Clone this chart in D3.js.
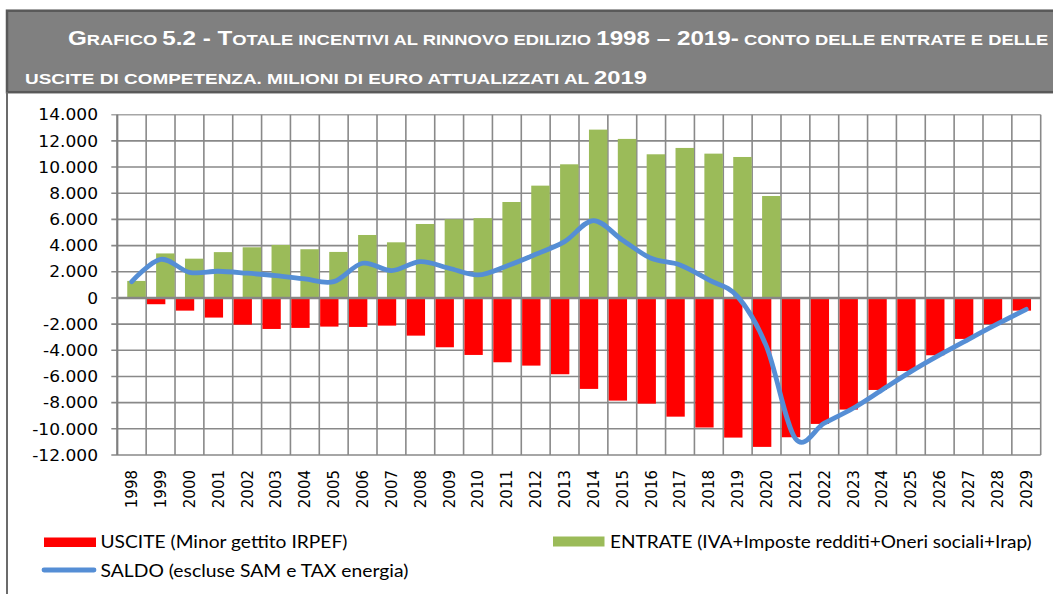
<!DOCTYPE html>
<html><head><meta charset="utf-8">
<script src="https://cdn.jsdelivr.net/npm/d3@7"></script>
<style>html,body{margin:0;padding:0;background:#fff;}svg{display:block;}</style>
</head><body>
<svg id="chart" width="1053" height="594"></svg>
<script>
const years = ["1998","1999","2000","2001","2002","2003","2004","2005","2006","2007","2008","2009","2010","2011","2012","2013","2014","2015","2016","2017","2018","2019","2020","2021","2022","2023","2024","2025","2026","2027","2028","2029"];
const uscite = [0,-480,-970,-1500,-2040,-2370,-2290,-2190,-2215,-2115,-2880,-3770,-4355,-4915,-5170,-5830,-6950,-7845,-8075,-9070,-9900,-10670,-11380,-10645,-9625,-8530,-7030,-5580,-4380,-3130,-2010,-970];
const entrate = [1300,3400,3000,3500,3870,4050,3720,3515,4810,4250,5650,6010,6090,7330,8580,10210,12860,12150,10975,11460,11025,10770,7790,null,null,null,null,null,null,null,null,null];
const saldo = [1245,2950,1960,2040,1890,1705,1450,1245,2650,2090,2775,2270,1757,2445,3335,4300,5910,4430,3030,2520,1375,100,-3720,-10750,-9570,-8430,-7030,-5630,-4355,-3160,-1990,-870];
const yTicks = [-12000,-10000,-8000,-6000,-4000,-2000,0,2000,4000,6000,8000,10000,12000,14000];
const legendLabels = ["USCITE (Minor gettito IRPEF)","ENTRATE (IVA+Imposte redditi+Oneri sociali+Irap)","SALDO (escluse SAM e TAX energia)"];

const svg = d3.select("#chart");
const L = 117.3, R = 1040.7, T = 114.7, B = 455;
const x = d3.scaleBand().domain(years).range([L, R]).padding(0);
const y = d3.scaleLinear().domain([-12000, 14000]).range([B, T]);
const loc = d3.formatLocale({decimal: ",", thousands: ".", grouping: [3], currency: ["", ""], minus: "-"});
const fmt = loc.format(",d");

// title band
svg.append("rect").attr("x", 7).attr("y", 10.7).attr("width", 1060).attr("height", 81.5)
  .attr("fill", "#808080").attr("stroke", "#595959").attr("stroke-width", 2.5);
svg.append("line").attr("x1", 7).attr("x2", 7).attr("y1", 92).attr("y2", 594)
  .attr("stroke", "#6b6b6b").attr("stroke-width", 2);

function fitText(parts, x0, yb, width) {
  const t = svg.append("text").attr("x", 0).attr("y", 0)
    .attr("font-family", "'Liberation Sans', Arial, sans-serif").attr("font-weight", "bold").attr("fill", "#ffffff");
  parts.forEach(p => t.append("tspan").attr("font-size", p[1]).text(p[0]));
  const w = t.node().getComputedTextLength();
  t.attr("transform", `translate(${x0},${yb}) scale(${width / w},1)`);
}
const BIG = 19.5, SM = 14.8;
fitText([["G", BIG], ["RAFICO ", SM], ["5.2 - ", BIG], ["T", BIG], ["OTALE INCENTIVI AL RINNOVO EDILIZIO ", SM], ["1998 – 2019-", BIG], [" CONTO DELLE ENTRATE E DELLE", SM]], 68, 45, 981);
fitText([["USCITE DI COMPETENZA. MILIONI DI EURO ATTUALIZZATI AL ", SM], ["2019", 18.6]], 25, 84, 622);

// grid
const g = svg.append("g");
g.selectAll(".hg").data(yTicks).join("line")
  .attr("x1", L - 6).attr("x2", R).attr("y1", d => y(d)).attr("y2", d => y(d))
  .attr("stroke", d => d === 14000 ? "#a6a6a6" : "#898989").attr("stroke-width", 1.6);
const bounds = years.map(d => x(d)).concat([R]);
g.selectAll(".vg").data(bounds).join("line")
  .attr("x1", d => d).attr("x2", d => d).attr("y1", T).attr("y2", B)
  .attr("stroke", "#898989").attr("stroke-width", 1.6);
g.append("line").attr("x1", L).attr("x2", L).attr("y1", T).attr("y2", B).attr("stroke", "#7f7f7f").attr("stroke-width", 2);

// y labels
svg.append("g").selectAll("text").data(yTicks).join("text")
  .attr("transform", d => `translate(98,${y(d) + 5.7}) scale(1.08,1)`)
  .attr("text-anchor", "end")
  .attr("font-family", "'DejaVu Sans', sans-serif").attr("font-size", 15.8).attr("fill", "#000")
  .text(d => fmt(d));

// bars
const bw = x.bandwidth();
svg.append("g").selectAll("rect").data(years.map((d, i) => ({yr: d, v: uscite[i]})).filter(d => d.v))
  .join("rect")
  .attr("x", d => x(d.yr) + bw * 0.03).attr("width", bw * 0.635)
  .attr("y", y(0)).attr("height", d => y(d.v) - y(0)).attr("fill", "#ff0000");
svg.append("g").selectAll("rect").data(years.map((d, i) => ({yr: d, v: entrate[i]})).filter(d => d.v != null))
  .join("rect")
  .attr("x", d => x(d.yr) + bw * 0.345).attr("width", bw * 0.64)
  .attr("y", d => y(d.v)).attr("height", d => y(0) - y(d.v)).attr("fill", "#9bbb59");

// zero axis
svg.append("line").attr("x1", L).attr("x2", R).attr("y1", y(0)).attr("y2", y(0))
  .attr("stroke", "#868686").attr("stroke-width", 2.6);

// line
const line = d3.line().x((d, i) => x(years[i]) + bw / 2).y(d => y(d)).curve(d3.curveCardinal.tension(0));
svg.append("path").datum(saldo).attr("d", line).attr("fill", "none")
  .attr("stroke", "#558ed5").attr("stroke-width", 4.8).attr("stroke-linecap", "round").attr("stroke-linejoin", "round");

// x labels
svg.append("g").selectAll("text").data(years).join("text")
  .attr("transform", d => `translate(${x(d) + bw / 2 + 5.4},470) rotate(-90)`)
  .attr("text-anchor", "end")
  .attr("font-family", "'DejaVu Sans', sans-serif").attr("font-size", 15).attr("fill", "#000")
  .text(d => d);

// legend
function legText(txt, x0, yb, width) {
  const t = svg.append("text").attr("x", 0).attr("y", 0)
    .attr("font-family", "Lato, 'Open Sans', sans-serif").attr("font-size", 17).attr("fill", "#000").text(txt);
  const w = t.node().getComputedTextLength();
  t.attr("transform", `translate(${x0},${yb}) scale(${width / w},1)`);
}
svg.append("rect").attr("x", 44).attr("y", 537.5).attr("width", 52).attr("height", 9.5).attr("fill", "#ff0000");
legText(legendLabels[0], 100.5, 548, 247);
svg.append("rect").attr("x", 553).attr("y", 536.5).attr("width", 51.5).attr("height", 10).attr("fill", "#9bbb59");
legText(legendLabels[1], 610, 547.5, 422);
svg.append("line").attr("x1", 44).attr("x2", 94).attr("y1", 570).attr("y2", 570)
  .attr("stroke", "#558ed5").attr("stroke-width", 4.8).attr("stroke-linecap", "round");
legText(legendLabels[2], 100.5, 576.7, 308);
</script>
</body></html>
